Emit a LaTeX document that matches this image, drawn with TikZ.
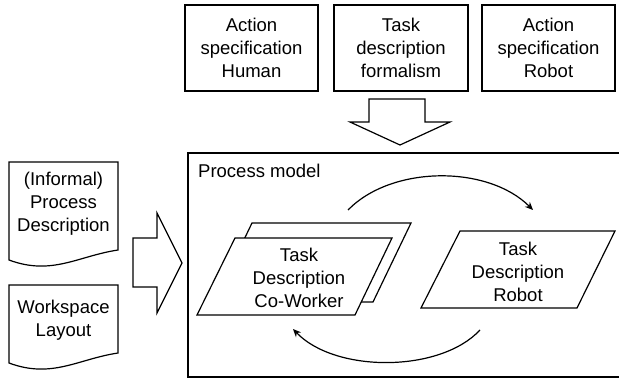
\documentclass[tikz,border=0pt]{standalone}
\usepackage{fontspec}
\setmainfont{Liberation Sans}
\usetikzlibrary{arrows.meta}
\begin{document}
\begin{tikzpicture}[x=1pt,y=-1pt,
  every node/.style={font=\fontsize{18.5}{23}\selectfont, align=center, inner sep=0pt},
  line/.style={line width=1.2pt, black},
  box/.style={line, draw, fill=white},
  flow/.style={line, -{Stealth[length=8pt,width=7pt]}}]
\useasboundingbox (0,0) rectangle (619,383);
% top boxes
\node[box, minimum width=133pt, minimum height=86pt] (ah) at (251.5,48) {Action\\specification\\Human};
\node[box, minimum width=134pt, minimum height=86pt] (tf) at (401,48) {Task\\description\\formalism};
\node[box, minimum width=133pt, minimum height=86pt] (ar) at (548.5,48) {Action\\specification\\Robot};
% down block arrow
\draw[box, line join=miter] (369,99) -- (425,99) -- (425,122) -- (450,122) -- (400,145) -- (350,122) -- (369,122) -- cycle;
% process model box
\draw[box] (188,153) rectangle (625,377);
\node[anchor=west] (pm) at (198,171) {Process model};
% documents
\draw[box] (9,162) -- (118,162) -- (118,250) .. controls (78,256) and (52,276) .. (9,260) -- cycle;
\node (pd) at (63.5,204) {(Informal)\\Process\\Description};
\draw[box] (9,285) -- (118,285) -- (118,353) .. controls (78,359) and (52,379) .. (9,363) -- cycle;
\node (wl) at (63.5,320) {Workspace\\Layout};
% right block arrow
\draw[box, line join=miter] (133,238) -- (157,238) -- (157,213) -- (182,263) -- (157,313) -- (157,287) -- (133,287) -- cycle;
% co-worker parallelograms
\draw[box] (214,302) -- (252,223) -- (411,223) -- (373,302) -- cycle;
\draw[box] (197,315) -- (235,238) -- (392,238) -- (355,315) -- cycle;
\node (cw) at (299,278) {Task\\Description\\Co-Worker};
% robot parallelogram
\draw[box] (421,308) -- (460,231) -- (615,231) -- (577,308) -- cycle;
\node (rb) at (518,271.5) {Task\\Description\\Robot};
% arcs
\coordinate (a1) at (348,210);
\coordinate (a2) at (533,210);
\coordinate (b1) at (480,330);
\coordinate (b2) at (293,329);
\draw[flow] (a1) .. controls (392,165) and (488,165) .. (a2);
\draw[flow] (b1) .. controls (440,373) and (335,373) .. (b2);
\end{tikzpicture}
\end{document}
